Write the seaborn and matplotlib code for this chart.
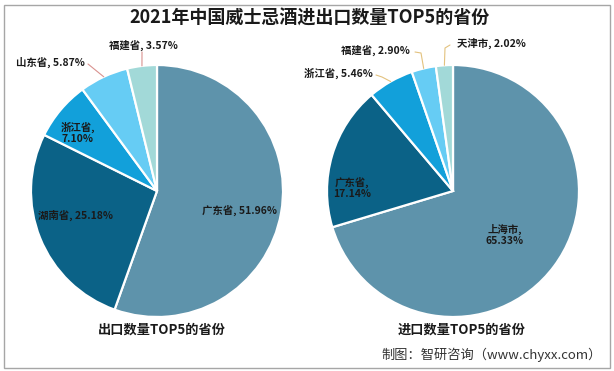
import numpy as np
import matplotlib
matplotlib.use("Agg")
import matplotlib.pyplot as plt
import seaborn as sns
from matplotlib.patches import Rectangle

sns.set_theme(style="white")
plt.rcParams['font.family'] = ['Noto Sans CJK SC', 'DejaVu Sans']

title = "2021年中国威士忌酒进出口数量TOP5的省份"
export_provinces = ["广东省", "湖南省", "浙江省", "山东省", "福建省"]
export_values = [51.96, 25.18, 7.10, 5.87, 3.57]
import_provinces = ["上海市", "广东省", "浙江省", "福建省", "天津市"]
import_values = [65.33, 17.14, 5.46, 2.90, 2.02]
export_title = "出口数量TOP5的省份"
import_title = "进口数量TOP5的省份"
source = "制图：智研咨询（www.chyxx.com）"

colors = sns.color_palette(["#5E93AB", "#0B6287", "#12A0DA", "#66CCF4", "#A2D9D8"])

W, H = 614, 371
fig = plt.figure(figsize=(W / 100, H / 100), dpi=100)
fig.patch.set_facecolor("white")

R = 126.0
HALF = 132


def make_ax(cx, cy):
    ax = fig.add_axes([(cx - HALF) / W, (H - cy - HALF) / H, 2 * HALF / W, 2 * HALF / H])
    return ax


def fix_limits(ax):
    lim = HALF / R
    ax.set_xlim(-lim, lim)
    ax.set_ylim(-lim, lim)
    ax.set_aspect("equal")
    ax.axis("off")


def fig_text(px, py, s, **kw):
    fig.text(px / W, 1 - py / H, s, **kw)


def pie(ax, values):
    wedges, _ = ax.pie(values, colors=colors, startangle=90, counterclock=False,
                       radius=1.0, wedgeprops=dict(edgecolor="white", linewidth=1.6))
    fix_limits(ax)
    return wedges


def leader(ax, wedge, pts, color):
    mid = np.deg2rad((wedge.theta1 + wedge.theta2) / 2)
    ex, ey = np.cos(mid), np.sin(mid)
    edge = ax.transData.transform((ex, ey))
    xs = [p[0] for p in pts] + [edge[0]]
    ys = [H - p[1] for p in pts] + [edge[1]]
    fig.add_artist(plt.Line2D(np.array(xs) / W, np.array(ys) / H,
                              transform=fig.transFigure, color=color, lw=0.8))


lab_kw = dict(fontsize=7.5, fontweight="bold", color="#1a1a1a", ha="center", va="center",
              linespacing=1.1)

# Left pie (exports)
axL = make_ax(157, 191)
wL = pie(axL, export_values)
fig_text(239, 210, f"{export_provinces[0]}, {export_values[0]:.2f}%", **lab_kw)
fig_text(76, 215, f"{export_provinces[1]}, {export_values[1]:.2f}%", **lab_kw)
fig_text(78, 133, f"{export_provinces[2]},\n{export_values[2]:.2f}%", **lab_kw)
fig_text(50, 62, f"{export_provinces[3]}, {export_values[3]:.2f}%", **lab_kw)
fig_text(143, 45, f"{export_provinces[4]}, {export_values[4]:.2f}%", **lab_kw)

# Right pie (imports)
axR = make_ax(453, 191)
wR = pie(axR, import_values)
fig_text(505, 235, f"{import_provinces[0]},\n{import_values[0]:.2f}%", **lab_kw)
fig_text(352, 188, f"{import_provinces[1]},\n{import_values[1]:.2f}%", **lab_kw)
fig_text(338, 73, f"{import_provinces[2]}, {import_values[2]:.2f}%", **lab_kw)
fig_text(375, 50, f"{import_provinces[3]}, {import_values[3]:.2f}%", **lab_kw)
fig_text(491, 43, f"{import_provinces[4]}, {import_values[4]:.2f}%", **lab_kw)

leader(axL, wL[3], [(88, 64)], "#D9928F")
leader(axL, wL[4], [(142, 52)], "#D9928F")
leader(axR, wR[2], [(376, 75), (382, 77)], "#E3C27E")
leader(axR, wR[3], [(415, 52), (421, 53)], "#E3C27E")
leader(axR, wR[4], [(450, 45), (445, 48)], "#E3C27E")

# Titles
fig_text(310, 18, title, fontsize=13, fontweight="bold", color="#1a1a1a", ha="center", va="center")
fig_text(162, 330, export_title, fontsize=9.5, fontweight="bold", color="#1a1a1a", ha="center", va="center")
fig_text(462, 330, import_title, fontsize=9.5, fontweight="bold", color="#1a1a1a", ha="center", va="center")
fig_text(602, 355, source, fontsize=9.5, color="#333333", ha="right", va="center")

# Border
fig.add_artist(Rectangle((4 / W, 3 / H), (610 - 4) / W, (367 - 4) / H, transform=fig.transFigure,
                         fill=False, edgecolor="#A6A6A6", lw=1.0))

fig.savefig("out.png", dpi=100)
